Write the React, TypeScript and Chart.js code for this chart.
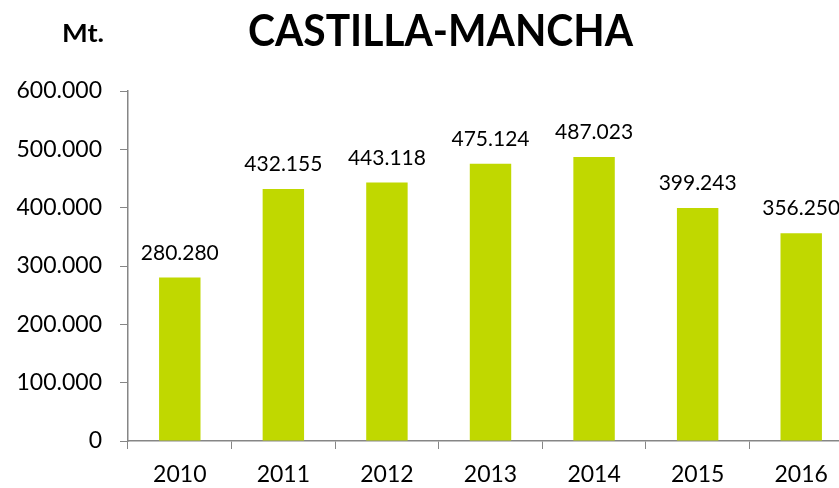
import React, { useEffect, useRef } from "react";
import { Chart, registerables } from "chart.js";

Chart.register(...registerables);

const categories = ["2010", "2011", "2012", "2013", "2014", "2015", "2016"];
const values = [280280, 432155, 443118, 475124, 487023, 399243, 356250];
const yTicks = [0, 100000, 200000, 300000, 400000, 500000, 600000];
const titleText = "CASTILLA-MANCHA";
const unitText = "Mt.";

const FONT = "Lato, 'Open Sans', sans-serif";

function fmt(v: number): string {
  const s = Math.round(v).toString();
  return s.replace(/\B(?=(\d{3})+(?!\d))/g, ".");
}

const overlayPlugin = {
  id: "overlay",
  afterDatasetsDraw(chart: any) {
    const ctx = chart.ctx;
    const meta = chart.getDatasetMeta(0);
    ctx.save();
    ctx.fillStyle = "#000000";
    ctx.font = `21px ${FONT}`;
    ctx.textAlign = "center";
    ctx.textBaseline = "alphabetic";
    meta.data.forEach((bar: any, i: number) => {
      ctx.fillText(fmt(values[i]), bar.x, bar.y - 18);
    });
    ctx.restore();
  },
  afterDraw(chart: any) {
    const ctx = chart.ctx;
    // title
    ctx.save();
    ctx.fillStyle = "#000000";
    ctx.font = `bold 43px ${FONT}`;
    ctx.textAlign = "center";
    ctx.textBaseline = "alphabetic";
    let w = ctx.measureText(titleText).width;
    let sx = 385 / w;
    ctx.translate(440.5, 46);
    ctx.scale(sx, 1);
    ctx.fillText(titleText, 0, 0);
    ctx.restore();
    // unit
    ctx.save();
    ctx.fillStyle = "#000000";
    ctx.font = `bold 25px ${FONT}`;
    ctx.textAlign = "center";
    ctx.textBaseline = "alphabetic";
    w = ctx.measureText(unitText).width;
    sx = 42 / w;
    ctx.translate(83, 42);
    ctx.scale(sx, 1);
    ctx.fillText(unitText, 0, 0);
    ctx.restore();
  },
};

export default function App() {
  const ref = useRef<HTMLCanvasElement | null>(null);
  useEffect(() => {
    if (!ref.current) return;
    const chart = new Chart(ref.current, {
      type: "bar",
      data: {
        labels: categories,
        datasets: [
          {
            data: values,
            backgroundColor: "#C0D800",
            borderWidth: 0,
            categoryPercentage: 1,
            barPercentage: 0.4,
          },
        ],
      },
      options: {
        responsive: false,
        animation: false,
        layout: { padding: { top: 91, left: 0, right: 0, bottom: 0 } },
        plugins: {
          legend: { display: false },
          title: { display: false },
          tooltip: { enabled: false },
        },
        scales: {
          x: {
            grid: {
              display: true,
              drawOnChartArea: false,
              drawTicks: true,
              tickLength: 8,
              color: "#868686",
              offset: true,
            },
            border: { display: true, color: "#868686", width: 1.5 },
            ticks: {
              color: "#000000",
              font: { family: FONT, size: 23 },
              padding: 12,
              maxRotation: 0,
            },
            afterFit: (s: any) => {
              s.height = 47;
            },
          },
          y: {
            min: 0,
            max: 600000,
            afterBuildTicks: (s: any) => {
              s.ticks = yTicks.map((v) => ({ value: v }));
            },
            grid: {
              display: true,
              drawOnChartArea: false,
              drawTicks: true,
              tickLength: 8,
              color: "#868686",
            },
            border: { display: true, color: "#868686", width: 1.5 },
            ticks: {
              color: "#000000",
              font: { family: FONT, size: 23 },
              padding: 18,
              callback: (v: any) => fmt(Number(v)),
            },
            afterFit: (s: any) => {
              s.width = 128;
            },
          },
        },
      },
      plugins: [overlayPlugin],
    });
    return () => chart.destroy();
  }, []);
  return (
    <div
      style={{
        position: "fixed",
        left: 0,
        top: 0,
        width: 839,
        height: 488,
        overflow: "hidden",
        background: "#ffffff",
      }}
    >
      <canvas ref={ref} width={853} height={488} style={{ display: "block" }} />
    </div>
  );
}
